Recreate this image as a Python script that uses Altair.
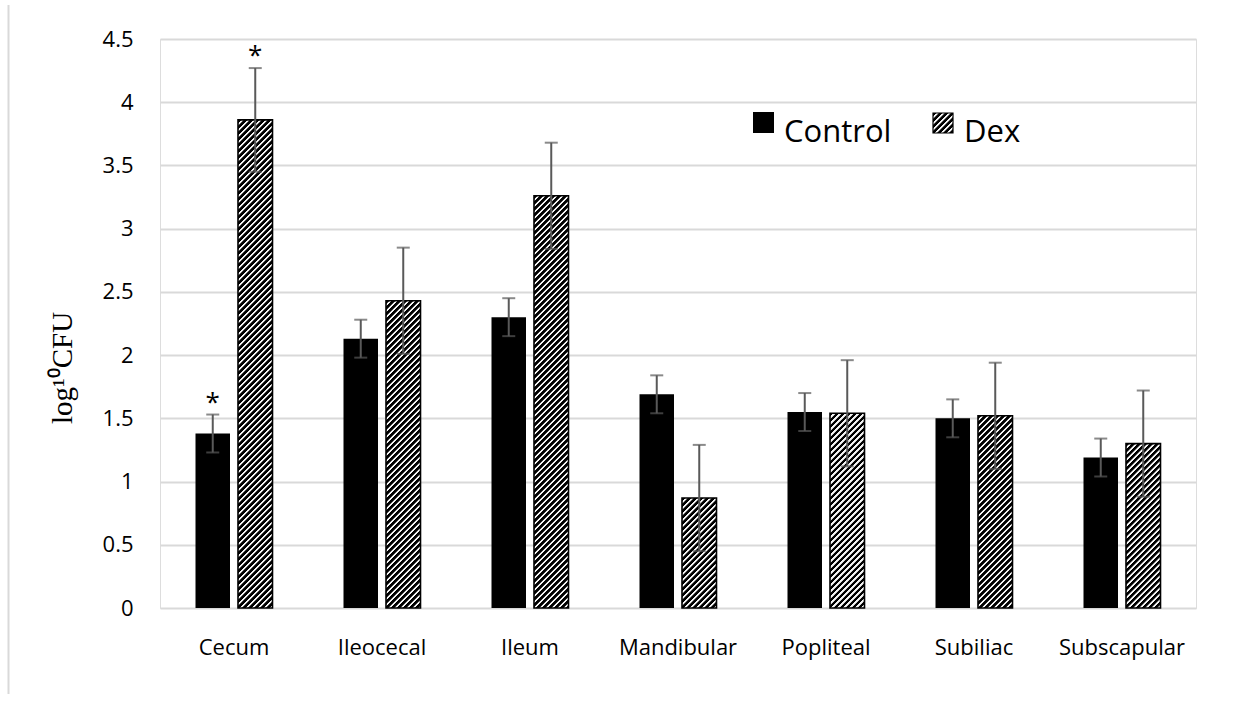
import altair as alt
import pandas as pd

# ---- data -------------------------------------------------------------
sites = ["Cecum", "Ileocecal", "Ileum", "Mandibular", "Popliteal", "Subiliac", "Subscapular"]
control_mean = [1.38, 2.13, 2.30, 1.69, 1.55, 1.50, 1.19]
control_err = [0.15, 0.15, 0.15, 0.15, 0.15, 0.15, 0.15]
dex_mean = [3.86, 2.43, 3.26, 0.87, 1.54, 1.52, 1.30]
dex_err = [0.41, 0.42, 0.42, 0.42, 0.42, 0.42, 0.42]
significant = [("Cecum", "Control"), ("Cecum", "Dex")]
groups = ["Control", "Dex"]
y_ticks = [0, 0.5, 1, 1.5, 2, 2.5, 3, 3.5, 4, 4.5]

rows = []
for i, s in enumerate(sites):
    rows.append({"site": s, "group": "Control", "mean": control_mean[i], "err": control_err[i]})
    rows.append({"site": s, "group": "Dex", "mean": dex_mean[i], "err": dex_err[i]})
df = pd.DataFrame(rows)
df["lo"] = df["mean"] - df["err"]
df["hi"] = df["mean"] + df["err"]

stars = df[[(r.site, r.group) in significant for r in df.itertuples()]].copy()

# ---- layout -----------------------------------------------------------
PLOT_W, PLOT_H = 1036, 569
Y_MAX = 4.5
BAND = PLOT_W / len(sites)
BAR_W, BAR_GAP = 34.5, 8.0
STEP = BAR_W + BAR_GAP
P_IN = BAR_GAP / STEP
P_OUT = (BAND / STEP - 2 + P_IN) / 2

FONT = "Open Sans"
GRID = "#d9d9d9"
ERR = "#595959"


def hatch(w, h, period=6.0):
    """Diagonal '/' stripes as a linear gradient over a w x h box."""
    n = (w + h) / period
    t = (w + h) * w / (w * w + h * h)
    stops = []
    k = 0
    while k < n + 1:
        for frac, col in ((0.04, "#000000"), (0.52, "#000000"), (0.62, "#f4f4f4"), (0.94, "#f4f4f4")):
            off = (k + frac) / n
            if 0 <= off <= 1:
                stops.append({"offset": round(off, 5), "color": col})
        k += 1
    return {"gradient": "linear", "x1": 0, "y1": 0, "x2": round(t, 5), "y2": round(t * h / w, 5), "stops": stops}


x_enc = alt.X("site:N", sort=sites, scale=alt.Scale(paddingInner=0, paddingOuter=0),
              axis=alt.Axis(title=None, labelAngle=0, ticks=False, tickSize=0, domain=False,
                            labelPadding=29, labelFontSize=22, labelFont=FONT, labelColor="#000000"))
xo_enc = alt.XOffset("group:N", sort=groups,
                     scale=alt.Scale(domain=groups, paddingInner=P_IN, paddingOuter=P_OUT))
y_scale = alt.Scale(domain=[0, Y_MAX], nice=False)
y_axis = alt.Axis(title=None, values=y_ticks, format="~g", ticks=False, tickSize=0, domain=False,
                  labelPadding=27, labelFontSize=22, labelFont=FONT, labelColor="#000000",
                  grid=True, gridColor=GRID, gridWidth=1.8)

base = alt.Chart(df)

control_bars = base.transform_filter(alt.datum.group == "Control").mark_bar(
    color="#000000").encode(x=x_enc, xOffset=xo_enc, y=alt.Y("mean:Q", scale=y_scale, axis=y_axis))

dex_layers = []
for s, v in zip(sites, dex_mean):
    h = v / Y_MAX * PLOT_H
    dex_layers.append(
        base.transform_filter((alt.datum.group == "Dex") & (alt.datum.site == s)).mark_bar(
            fill=hatch(BAR_W, h), stroke="#000000", strokeWidth=1.6
        ).encode(x=x_enc, xOffset=xo_enc, y=alt.Y("mean:Q", scale=y_scale, axis=y_axis))
    )

err_rule = base.mark_rule(color=ERR, strokeWidth=2).encode(
    x=x_enc, xOffset=xo_enc, y=alt.Y("lo:Q", scale=y_scale, axis=y_axis), y2="hi:Q")
cap_lo = base.mark_tick(color=ERR, thickness=2, size=13, orient="horizontal").encode(
    x=x_enc, xOffset=xo_enc, y=alt.Y("lo:Q", scale=y_scale, axis=y_axis))
cap_hi = base.mark_tick(color=ERR, thickness=2, size=13, orient="horizontal").encode(
    x=x_enc, xOffset=xo_enc, y=alt.Y("hi:Q", scale=y_scale, axis=y_axis))

star_text = alt.Chart(stars).mark_text(
    text="*", fontSize=26, font=FONT, baseline="middle", dy=-12, color="#000000"
).encode(x=x_enc, xOffset=xo_enc, y=alt.Y("hi:Q", scale=y_scale, axis=y_axis))

one = pd.DataFrame({"k": [0]})

# legend
leg_ctrl = alt.Chart(one).mark_rect(color="#000000").encode(
    x=alt.value(593), x2=alt.value(614), y=alt.value(73), y2=alt.value(94))
leg_dex = alt.Chart(one).mark_rect(fill=hatch(20, 20), stroke="#000000", strokeWidth=1.2).encode(
    x=alt.value(773), x2=alt.value(793), y=alt.value(74), y2=alt.value(94))
leg_ctrl_txt = alt.Chart(one).mark_text(align="left", baseline="alphabetic", fontSize=31, font=FONT,
                                        color="#000000").encode(
    x=alt.value(624), y=alt.value(103), text=alt.value("Control"))
leg_dex_txt = alt.Chart(one).mark_text(align="left", baseline="alphabetic", fontSize=31, font=FONT,
                                       color="#000000").encode(
    x=alt.value(804), y=alt.value(103), text=alt.value("Dex"))

# y title
y_title = alt.Chart(one).mark_text(angle=270, align="center", baseline="middle", fontSize=29,
                                   font="Liberation Serif", color="#000000").encode(
    x=alt.value(-97), y=alt.value(329), text=alt.value("log¹⁰CFU"))

# frame line along the left edge
frame = alt.Chart(one).mark_rule(color=GRID, strokeWidth=2).encode(
    x=alt.value(-151.5), y=alt.value(-34), y2=alt.value(655))

chart = alt.layer(
    control_bars, *dex_layers, err_rule, cap_lo, cap_hi, star_text,
    leg_ctrl, leg_dex, leg_ctrl_txt, leg_dex_txt, y_title, frame
).properties(
    width=PLOT_W, height=PLOT_H,
    autosize=alt.AutoSizeParams(type="none"),
    padding={"left": 160, "top": 39, "right": 48, "bottom": 94},
).configure_view(stroke=None).configure(background="#ffffff")

chart.save("out.html", embed_options={"renderer": "svg", "actions": False})
